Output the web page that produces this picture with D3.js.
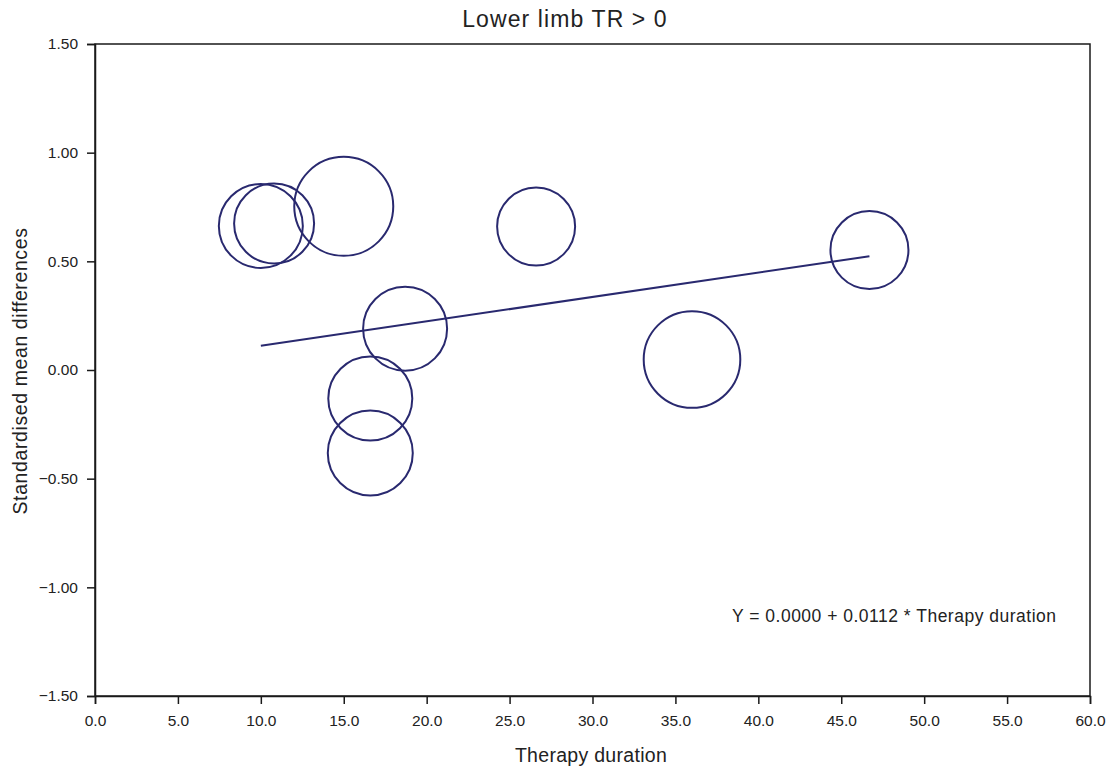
<!DOCTYPE html>
<html><head><meta charset="utf-8">
<script src="https://cdn.jsdelivr.net/npm/d3@7"></script>
<style>body{margin:0;background:#fff}svg{display:block;font-family:"Liberation Sans",Arial,sans-serif}</style>
</head><body><svg id="c" width="1113" height="769"></svg>
<script>
// Study points: therapy duration, SMD, weight (circle radius in px-ish units)
const durations = [10.0, 10.8, 15.0, 18.7, 16.6, 16.6, 26.6, 36.0, 46.7];
const smd       = [0.663, 0.674, 0.753, 0.19, -0.131, -0.382, 0.66, 0.048, 0.552];
const weights   = [42, 40, 49.5, 42, 42, 42.5, 39, 48.3, 39];
// Regression line endpoints (Y = 0.0000 + 0.0112 * duration)
const lineX = [10.0, 46.7];
const lineY = [0.112, 0.523];
const xTicks = [0,5,10,15,20,25,30,35,40,45,50,55,60];
const yTicks = [-1.5,-1.0,-0.5,0,0.5,1.0,1.5];

const svg = d3.select("#c");
const L=95, R=1090, T=44, B=696;
const x = d3.scaleLinear().domain([0,60]).range([L,R]);
const y = d3.scaleLinear().domain([-1.5,1.5]).range([B,T]);
const r = d3.scaleLinear().domain([0,1]).range([0,1]);
const navy = "#29296f";
const fmtY = d => (d<0?"\u2212":"") + Math.abs(d).toFixed(2);

// frame
svg.append("rect").attr("x",L).attr("y",T).attr("width",R-L).attr("height",B-T)
  .attr("fill","none").attr("stroke","#1a1a1a").attr("stroke-width",1.5);

const xa = svg.append("g").attr("transform",`translate(0,${B})`)
  .call(d3.axisBottom(x).tickValues(xTicks).tickFormat(d=>d.toFixed(1)).tickSize(8).tickPadding(11));
const ya = svg.append("g").attr("transform",`translate(${L},0)`)
  .call(d3.axisLeft(y).tickValues(yTicks).tickFormat(fmtY).tickSize(8).tickPadding(9));
[xa,ya].forEach(a=>{
  a.attr("font-size",null).attr("font-family",null);
  a.select(".domain").attr("stroke","#1a1a1a").attr("stroke-width",1.5);
  a.selectAll(".tick line").attr("stroke","#1a1a1a").attr("stroke-width",1.5);
  a.selectAll("text").attr("fill","#222").style("font-size","15.5px");
});

// circles
const pts = durations.map((d,i)=>({x:d,y:smd[i],w:weights[i]}));
svg.append("g").selectAll("circle").data(pts).join("circle")
  .attr("cx",d=>x(d.x)).attr("cy",d=>y(d.y)).attr("r",d=>r(d.w))
  .attr("fill","none").attr("stroke",navy).attr("stroke-width",2);

// regression line
svg.append("path").datum(lineX.map((d,i)=>[d,lineY[i]]))
  .attr("d",d3.line().x(d=>x(d[0])).y(d=>y(d[1])))
  .attr("fill","none").attr("stroke",navy).attr("stroke-width",2);

// texts
svg.append("text").attr("x",565).attr("y",27).attr("text-anchor","middle")
  .style("font-size","23px").style("letter-spacing","1.1px").attr("fill","#222").text("Lower limb TR > 0");
svg.append("text").attr("x",591).attr("y",762).attr("text-anchor","middle")
  .style("font-size","19.5px").style("letter-spacing","0.3px").attr("fill","#222").text("Therapy duration");
svg.append("text").attr("transform","translate(27,371) rotate(-90)").attr("text-anchor","middle")
  .style("font-size","19.5px").style("letter-spacing","0.6px").attr("fill","#222").text("Standardised mean differences");
svg.append("text").attr("x",732).attr("y",622).attr("text-anchor","start")
  .style("font-size","17.5px").style("letter-spacing","0.5px").attr("fill","#222").text("Y = 0.0000 + 0.0112 * Therapy duration");
</script></body></html>
